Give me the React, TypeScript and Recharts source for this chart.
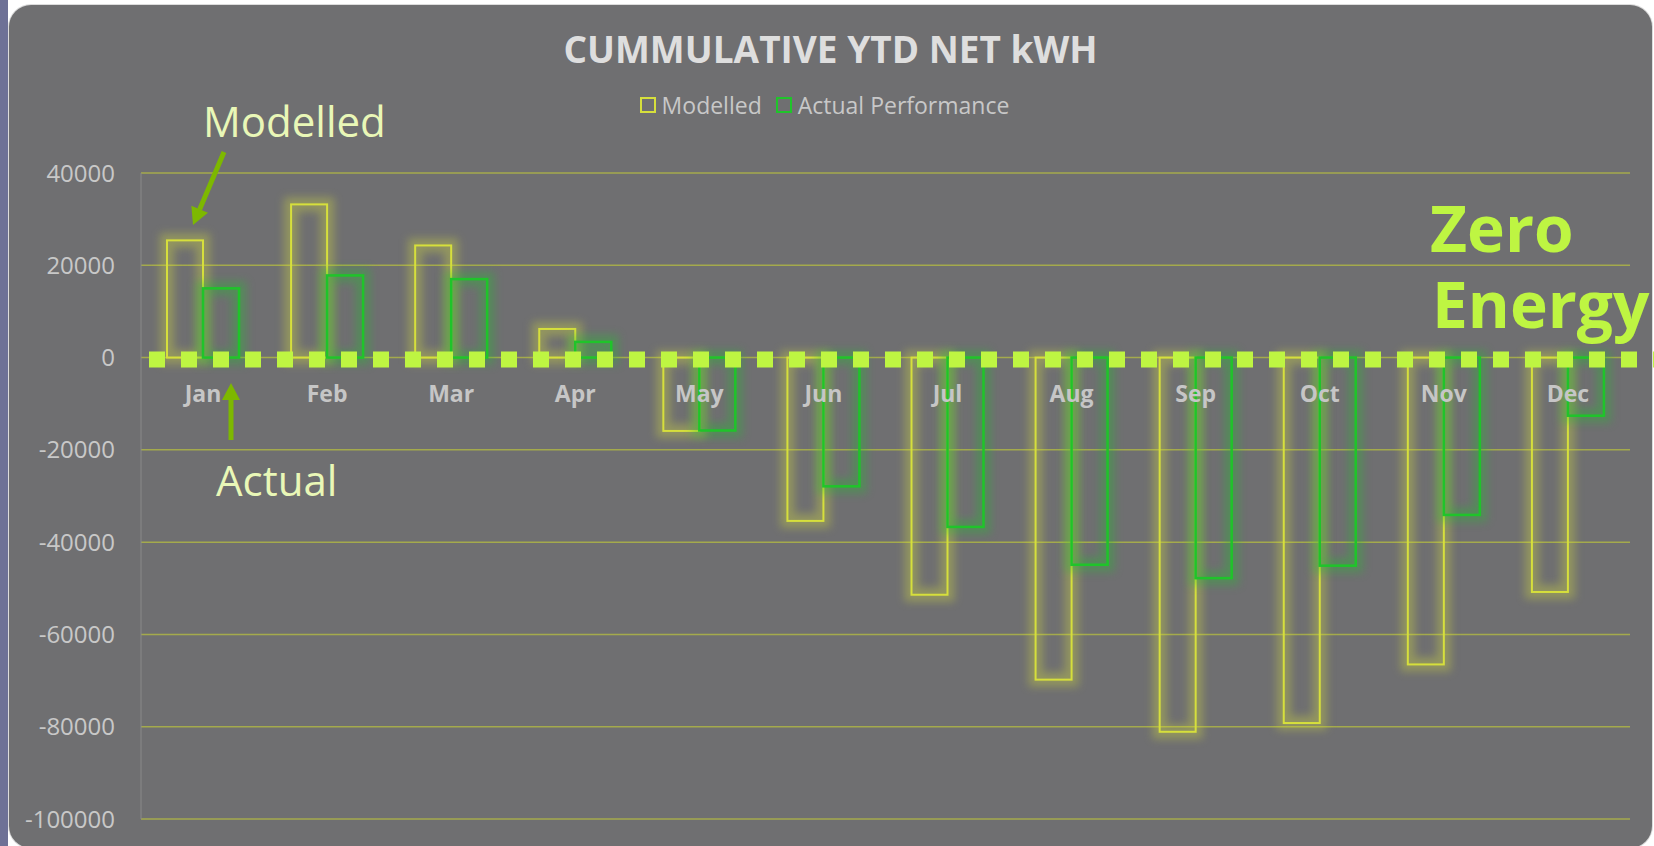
import React from 'react';
import { BarChart, Bar, XAxis, YAxis, CartesianGrid, ReferenceLine, LabelList } from 'recharts';

const months = ['Jan', 'Feb', 'Mar', 'Apr', 'May', 'Jun', 'Jul', 'Aug', 'Sep', 'Oct', 'Nov', 'Dec'];
const modelled = [25400, 33200, 24300, 6200, -15900, -35400, -51400, -69800, -81100, -79200, -66500, -50800];
const actual = [15000, 17800, 17000, 3400, -15800, -27900, -36700, -44900, -47800, -45100, -34100, -12600];
const yTicks = [40000, 20000, 0, -20000, -40000, -60000, -80000, -100000];

const data = months.map((month, i) => ({ month, modelled: modelled[i], actual: actual[i] }));

const FONT = '"Open Sans", "Noto Sans", sans-serif';
const YELLOW = '#d6df3c';
const GREEN = '#1fc42a';
const LIME = '#bef542';

// outlined bar with a soft glow around it
const glowBar = (color: string, sw: number) => (props: any) => {
  const { x, y, width, height } = props;
  if (x == null || y == null) return <g />;
  const top = Math.min(y, y + height);
  const h = Math.abs(height);
  return (
    <g>
      <rect x={x} y={top} width={width} height={h} fill="none" stroke={color}
        strokeOpacity={0.35} strokeWidth={14} style={{ filter: 'blur(4px)' }} />
      <rect x={x} y={top} width={width} height={h} fill="none" stroke={color} strokeWidth={sw} />
    </g>
  );
};

// month name sits under the zero line, centred on the category
const monthLabel = (props: any) => {
  const { x, y, width, height, index, value } = props;
  const v = modelled[index];
  const base = v >= 0 ? Math.max(y, y + height) : Math.min(y, y + height);
  return (
    <text x={x + width} y={base + 44} textAnchor="middle" fill="#c6c6c6"
      fontFamily={FONT} fontWeight={700} fontSize={23}>
      {value}
    </text>
  );
};

const zeroLine = (props: any) => {
  const { x1, y1, x2, y2 } = props;
  return (
    <line x1={x1 + 8} y1={y1 + 2} x2={x2 + 40} y2={y2 + 2}
      stroke={LIME} strokeWidth={16} strokeDasharray="16 16" />
  );
};

const Arrow = ({ x1, y1, x2, y2 }: { x1: number; y1: number; x2: number; y2: number }) => {
  const a = Math.atan2(y2 - y1, x2 - x1);
  const len = 17, half = 9;
  const bx = x2 - len * Math.cos(a), by = y2 - len * Math.sin(a);
  const px = -Math.sin(a) * half, py = Math.cos(a) * half;
  return (
    <g>
      <line x1={x1} y1={y1} x2={bx} y2={by} stroke="#7db800" strokeWidth={5} />
      <polygon points={`${x2},${y2} ${bx + px},${by + py} ${bx - px},${by - py}`} fill="#7db800" />
    </g>
  );
};

const LegendItem = ({ color, label }: { color: string; label: string }) => (
  <span style={{ display: 'inline-flex', alignItems: 'center', marginRight: 14 }}>
    <span style={{ width: 12, height: 12, border: `2px solid ${color}`, marginRight: 6, display: 'inline-block' }} />
    <span>{label}</span>
  </span>
);

const App: React.FC = () => {
  return (
    <div style={{ position: 'relative', width: 1654, height: 846, background: '#ffffff', overflow: 'hidden', fontFamily: FONT }}>
      <style>{'body{margin:0}'}</style>
      <div style={{ position: 'absolute', left: 0, top: 0, width: 8, height: 846, background: '#6e7196' }} />
      <div style={{ position: 'absolute', left: 9, top: 5, width: 1643, height: 843, background: '#6f6f71', borderRadius: 22, boxShadow: '0 0 0 1px #dcdcdc' }} />

      <div style={{ position: 'absolute', left: 9, width: 1643, top: 24, textAlign: 'center', color: '#dedede', fontSize: 37, fontWeight: 700, lineHeight: '50px' }}>
        CUMMULATIVE YTD NET kWH
      </div>
      <div style={{ position: 'absolute', left: 10, width: 1643, top: 90, textAlign: 'center', color: '#c8c8c8', fontSize: 23, lineHeight: '28px' }}>
        <LegendItem color={YELLOW} label="Modelled" />
        <LegendItem color={GREEN} label="Actual Performance" />
      </div>

      <div style={{ position: 'absolute', left: 0, top: 0 }}>
        <BarChart width={1654} height={846} data={data} barGap={0} barSize={36}
          margin={{ top: 173, right: 24, bottom: 27, left: 0 }}>
          <CartesianGrid vertical={false} stroke="#a4aa4c" strokeWidth={1.5} />
          <XAxis dataKey="month" hide />
          <YAxis width={141} domain={[-100000, 40000]} ticks={yTicks} interval={0}
            axisLine={{ stroke: '#8a8a8a' }} tickLine={false} tickSize={0} tickMargin={26}
            tick={{ fill: '#c8c8c8', fontSize: 24, fontFamily: FONT }} />
          <Bar dataKey="modelled" isAnimationActive={false} shape={glowBar(YELLOW, 2)}>
            <LabelList dataKey="month" content={monthLabel} />
          </Bar>
          <Bar dataKey="actual" isAnimationActive={false} shape={glowBar(GREEN, 2.5)} />
          <ReferenceLine y={0} shape={zeroLine} />
        </BarChart>
      </div>

      <svg width={1654} height={846} style={{ position: 'absolute', left: 0, top: 0, pointerEvents: 'none' }}>
        <text x={203} y={137} fill="#e9f7b7" fontFamily={FONT} fontSize={42}>Modelled</text>
        <Arrow x1={224} y1={152} x2={193} y2={225} />
        <text x={216} y={496} fill="#e9f7b7" fontFamily={FONT} fontSize={42}>Actual</text>
        <Arrow x1={231} y1={440} x2={231} y2={383} />
        <text fill={LIME} fontFamily={FONT} fontWeight={700} fontSize={64}>
          <tspan x={1430} y={252}>Zero</tspan>
          <tspan x={1432} y={328}>Energy</tspan>
        </text>
      </svg>
    </div>
  );
};

export default App;
